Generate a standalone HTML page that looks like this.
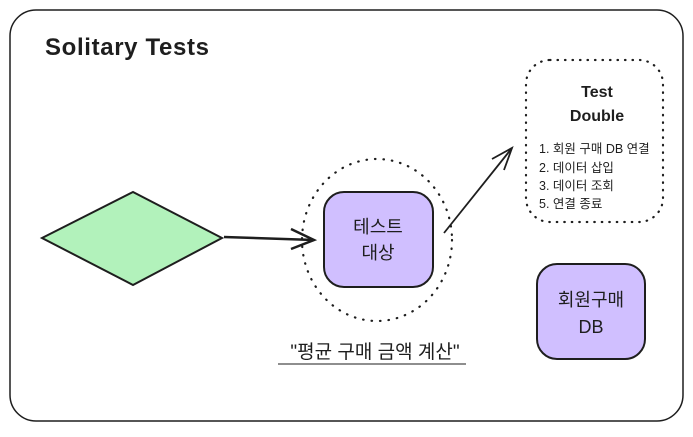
<!DOCTYPE html>
<html><head><meta charset="utf-8"><style>
body{margin:0;width:693px;height:432px;background:#fff;overflow:hidden}
svg text{font-family:"Liberation Sans","Noto Sans CJK KR",sans-serif}
</style></head><body>
<svg width="693" height="432" viewBox="0 0 693 432">
<rect x="10" y="10" width="673" height="411" rx="26" fill="#fff" stroke="#1e1e1e" stroke-width="1.5"/>
<text x="45" y="55" font-size="24" font-weight="bold" fill="#1e1e1e" textLength="164">Solitary Tests</text>
<polygon points="42,238 133,192 222,238 133,285" fill="#b2f2bb" stroke="#1e1e1e" stroke-width="2"/>
<path d="M224,237 L314,240" stroke="#1e1e1e" stroke-width="2.5" fill="none"/>
<path d="M291,229 L314,240 L291,249" stroke="#1e1e1e" stroke-width="2.5" fill="none"/>
<ellipse cx="377" cy="240" rx="75" ry="81" fill="none" stroke="#1e1e1e" stroke-width="2.2" stroke-dasharray="0.5 8" stroke-linecap="round"/>
<rect x="324" y="192" width="109" height="95" rx="20" fill="#d0bfff" stroke="#1e1e1e" stroke-width="2"/>
<text x="378" y="233" font-size="18" text-anchor="middle" fill="#1e1e1e">테스트</text>
<text x="378" y="259" font-size="18" text-anchor="middle" fill="#1e1e1e">대상</text>
<path d="M444,233 L512,148" stroke="#1e1e1e" stroke-width="1.8" fill="none"/>
<path d="M492,159 L512,148 L504,170" stroke="#1e1e1e" stroke-width="1.8" fill="none"/>
<rect x="526" y="60" width="137" height="162" rx="24" fill="none" stroke="#1e1e1e" stroke-width="2.2" stroke-dasharray="0.5 7" stroke-linecap="round"/>
<text x="597" y="97" font-size="16" font-weight="bold" text-anchor="middle" fill="#1e1e1e">Test</text>
<text x="597" y="121" font-size="16" font-weight="bold" text-anchor="middle" fill="#1e1e1e">Double</text>
<g font-size="12.5" fill="#1e1e1e">
<text x="539" y="153">1. 회원 구매 DB 연결</text>
<text x="539" y="172">2. 데이터 삽입</text>
<text x="539" y="190">3. 데이터 조회</text>
<text x="539" y="208">5. 연결 종료</text>
</g>
<rect x="537" y="264" width="108" height="95" rx="20" fill="#d0bfff" stroke="#1e1e1e" stroke-width="2"/>
<text x="591" y="306" font-size="18" text-anchor="middle" fill="#1e1e1e">회원구매</text>
<text x="591" y="333" font-size="18" text-anchor="middle" fill="#1e1e1e">DB</text>
<text x="375" y="358" font-size="19" text-anchor="middle" fill="#1e1e1e">"평균 구매 금액 계산"</text>
<line x1="278" y1="364" x2="466" y2="364" stroke="#1e1e1e" stroke-width="1"/>
</svg>
</body></html>
